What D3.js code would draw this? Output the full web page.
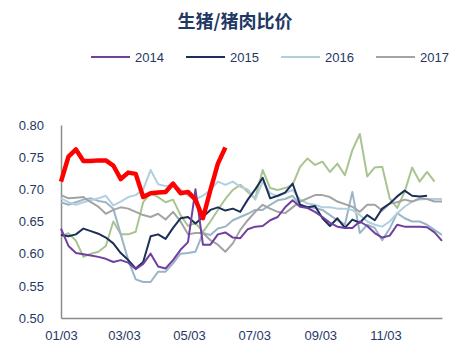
<!DOCTYPE html>
<html>
<head>
<meta charset="utf-8">
<script src="https://cdn.jsdelivr.net/npm/d3@7"></script>
<style>
  body { margin: 0; background: #fff; }
  svg { display: block; font-family: "Liberation Sans", Arial, sans-serif; }
</style>
</head>
<body>
<script>
// chart data, one weekly value per series, first week 01/03
const yTickValues = [0.50, 0.55, 0.60, 0.65, 0.70, 0.75, 0.80]
const xTickLabels = ['01/03', '03/03', '05/03', '07/03', '09/03', '11/03']
const legendYears = ['2014', '2015', '2016', '2017']

const s2014 = [0.639, 0.612, 0.601, 0.599, 0.597, 0.595, 0.592, 0.587, 0.590, 0.586, 0.576, 0.584, 0.600,
  0.580, 0.577, 0.590, 0.606, 0.618, 0.700, 0.614, 0.614, 0.630, 0.633, 0.625, 0.624, 0.638,
  0.642, 0.643, 0.652, 0.657, 0.672, 0.683, 0.673, 0.671, 0.665, 0.657, 0.648, 0.642, 0.640,
  0.640, 0.650, 0.643, 0.632, 0.625, 0.628, 0.645, 0.642, 0.642, 0.642, 0.641, 0.633, 0.620]
const s2015 = [0.629, 0.627, 0.630, 0.639, 0.635, 0.631, 0.625, 0.616, 0.601, 0.590, 0.577, 0.587, 0.627,
  0.630, 0.623, 0.640, 0.655, 0.657, 0.647, 0.657, 0.668, 0.672, 0.667, 0.670, 0.665, 0.684,
  0.700, 0.718, 0.686, 0.690, 0.695, 0.709, 0.676, 0.672, 0.674, 0.655, 0.643, 0.655, 0.640,
  0.653, 0.648, 0.660, 0.652, 0.670, 0.678, 0.689, 0.698, 0.690, 0.689, 0.690]
const s2016 = [0.686, 0.680, 0.676, 0.680, 0.683, 0.686, 0.690, 0.675, 0.681, 0.688, 0.691, 0.700, 0.730,
  0.708, 0.705, 0.707, 0.700, 0.690, 0.685, 0.690, 0.699, 0.712, 0.707, 0.712, 0.704, 0.700,
  0.684, 0.712, 0.694, 0.689, 0.694, 0.699, 0.684, 0.678, 0.676, 0.672, 0.672, 0.670, 0.670,
  0.668, 0.660, 0.650, 0.645, 0.642, 0.650, 0.663, 0.673, 0.681, 0.684, 0.685, 0.685, 0.685]
const s2017 = [0.691, 0.686, 0.687, 0.688, 0.680, 0.673, 0.662, 0.668, 0.672, 0.670, 0.665, 0.660, 0.657,
  0.662, 0.653, 0.665, 0.650, 0.630, 0.632, 0.632, 0.621, 0.614, 0.603, 0.616, 0.637, 0.652,
  0.665, 0.676, 0.670, 0.665, 0.663, 0.672, 0.681, 0.686, 0.691, 0.691, 0.688, 0.681, 0.677,
  0.673, 0.665, 0.676, 0.676, 0.667, 0.678, 0.680, 0.684, 0.681, 0.686, 0.685, 0.681, 0.681]
const sSteel = [0.680, 0.676, 0.680, 0.684, 0.686, 0.682, 0.680, 0.670, 0.630, 0.590, 0.560, 0.556, 0.556,
  0.572, 0.572, 0.585, 0.600, 0.601, 0.603, 0.632, 0.629, 0.639, 0.642, 0.652, 0.657, 0.662,
  0.668, 0.668, 0.676, 0.683, 0.685, 0.690, 0.676, 0.673, 0.671, 0.668, 0.660, 0.652, 0.645,
  0.696, 0.632, 0.645, 0.640, 0.621, 0.639, 0.663, 0.655, 0.650, 0.650, 0.645, 0.637, 0.629]
const sGreen = [0.627, 0.632, 0.620, 0.595, 0.600, 0.603, 0.612, 0.650, 0.630, 0.630, 0.634, 0.680, 0.694,
  0.688, 0.680, 0.684, 0.660, 0.643, 0.648, 0.634, 0.650, 0.668, 0.685, 0.699, 0.707, 0.696,
  0.686, 0.730, 0.702, 0.699, 0.702, 0.707, 0.735, 0.748, 0.738, 0.743, 0.727, 0.740, 0.722,
  0.761, 0.786, 0.720, 0.734, 0.735, 0.686, 0.671, 0.696, 0.734, 0.712, 0.727, 0.712]
const s2018 = [0.712, 0.751, 0.762, 0.744, 0.744, 0.745, 0.745, 0.737, 0.716, 0.726, 0.724, 0.688, 0.694,
  0.695, 0.696, 0.709, 0.694, 0.696, 0.684, 0.655, 0.699, 0.740, 0.765]

const w = 468
const h = 361

const start = new Date(2018, 0, 3)
const end = new Date(2018, 11, 26)
const weekDate = i => d3.timeDay.offset(start, 7 * i)
const parseTick = d3.timeParse('%Y/%m/%d')

const x = d3.scaleTime().domain([start, end]).range([61, 442])
const y = d3.scaleLinear().domain([0.50, 0.80]).range([318, 125])

const svg = d3.select('body').append('svg')
  .attr('width', w)
  .attr('height', h)

// title
svg.append('text')
  .attr('x', 235)
  .attr('y', 28)
  .attr('text-anchor', 'middle')
  .style('font-family', '"Noto Sans CJK SC", sans-serif')
  .style('font-weight', 'bold')
  .style('font-size', '18px')
  .style('fill', '#1f3864')
  .text('生猪/猪肉比价')

// axes
const yAxis = d3.axisLeft(y)
  .tickValues(yTickValues)
  .tickFormat(d3.format('.2f'))
  .tickSize(0)
  .tickPadding(17)

svg.append('g')
  .attr('transform', 'translate(61,0)')
  .call(yAxis)
  .call(g => g.select('.domain').attr('stroke', '#8c8c8c').attr('stroke-width', 1.5))
  .call(g => g.selectAll('text').style('font-size', '13px').style('fill', '#1f3864'))

const xAxis = d3.axisBottom(x)
  .tickValues(xTickLabels.map(t => parseTick('2018/' + t)))
  .tickFormat(d3.timeFormat('%m/%d'))
  .tickSize(0)
  .tickPadding(13)

svg.append('g')
  .attr('transform', 'translate(0,318)')
  .call(xAxis)
  .call(g => g.select('.domain').attr('stroke', '#8c8c8c').attr('stroke-width', 1.5))
  .call(g => g.selectAll('text').style('font-size', '13px').style('fill', '#1f3864'))

// lines
const line = d3.line()
  .x((d, i) => x(weekDate(i)))
  .y(d => y(d))

const series = [
  { values: sGreen, color: '#a9c491', width: 2 },
  { values: sSteel, color: '#9bb5c7', width: 2 },
  { values: s2016, color: '#b3cfdf', width: 2 },
  { values: s2017, color: '#a3a3a3', width: 2 },
  { values: s2015, color: '#1b2f57', width: 2 },
  { values: s2014, color: '#7040a0', width: 2 },
  { values: s2018, color: '#ff0000', width: 4.5 }
]

svg.selectAll('path.series')
  .data(series)
  .enter()
  .append('path')
  .attr('class', 'series')
  .attr('d', d => line(d.values))
  .attr('fill', 'none')
  .attr('stroke', d => d.color)
  .attr('stroke-width', d => d.width)
  .attr('stroke-linejoin', 'round')

// legend
const legendColors = ['#7040a0', '#1b2f57', '#b3cfdf', '#a3a3a3']
const legend = svg.selectAll('g.legend')
  .data(legendYears)
  .enter()
  .append('g')
  .attr('class', 'legend')
  .attr('transform', (d, i) => `translate(${91 + i * 95},57)`)

legend.append('line')
  .attr('x1', 0)
  .attr('x2', 39)
  .attr('stroke', (d, i) => legendColors[i])
  .attr('stroke-width', 2)

legend.append('text')
  .attr('x', 44)
  .attr('y', 4.5)
  .style('font-size', '13px')
  .style('fill', '#1f3864')
  .text(d => d)
</script>
</body>
</html>
